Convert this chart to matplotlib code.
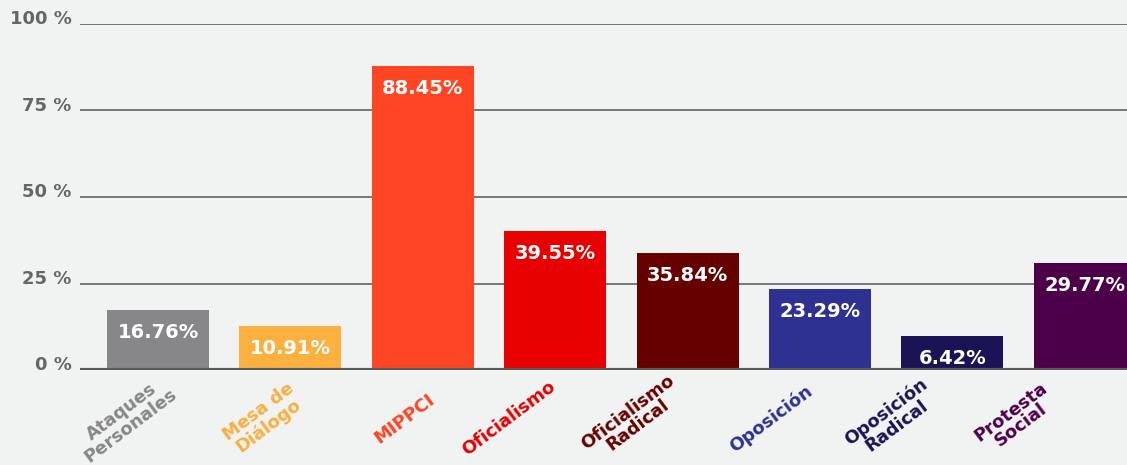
import matplotlib.pyplot as plt
from matplotlib.transforms import blended_transform_factory

plt.rcParams["font.family"] = ["DejaVu Sans"]

categories = ["Ataques\nPersonales", "Mesa de\nDiálogo", "MIPPCI", "Oficialismo",
              "Oficialismo\nRadical", "Oposición", "Oposición\nRadical", "Protesta\nSocial"]
# printed values
values = [16.76, 10.91, 88.45, 39.55, 35.84, 23.29, 6.42, 29.77]
# bar heights as drawn in the original (small bars are padded so the label fits)
bar_heights = [17.2, 12.6, 87.8, 40.1, 33.7, 23.3, 9.7, 30.8]
colors = ["#87878a", "#fbb040", "#ff4524", "#e60000", "#660000", "#2e3192", "#1a1456", "#4d004a"]
yticks = [0, 25, 50, 75, 100]
ytick_labels = ["0 %", "25 %", "50 %", "75 %", "100 %"]

# horizontal shift (px) of each rotated category label relative to its bar centre
label_shift_px = [-32, -27, -18, -46, -55, -49, -61, -69]

BG = "#f1f2f2"
fig = plt.figure(figsize=(11.27, 4.65), dpi=100, facecolor=BG)
ax = fig.add_axes([80 / 1127, 95 / 465, 1 - 80 / 1127, 346 / 465])
ax.set_facecolor(BG)

x = list(range(len(values)))
for yv in yticks[1:]:
    ax.axhline(yv, color="#777777", lw=1.4, zorder=1)

ax.bar(x, bar_heights, width=0.77, color=colors, zorder=2)
ax.axhline(0, color="#5a5a5a", lw=3, zorder=3)

ax.set_xlim(-0.59, 7.32)
ax.set_ylim(0, 100)
for s in ax.spines.values():
    s.set_visible(False)
ax.set_xticks([])
ax.set_yticks([])

trans = blended_transform_factory(ax.transAxes, ax.transData)
for yv, lab in zip(yticks, ytick_labels):
    ax.annotate(lab, xy=(0, yv), xycoords=trans, xytext=(-6, 3.5),
                textcoords="offset points", ha="right", va="center",
                fontsize=13, fontweight="bold", color="#666666",
                annotation_clip=False)

for xi, h, v in zip(x, bar_heights, values):
    ax.annotate(f"{v:.2f}%", xy=(xi, h), xytext=(0, -9), textcoords="offset points",
                ha="center", va="top", fontsize=14, fontweight="bold", color="white",
                zorder=4)

for xi, lab, c, sh in zip(x, categories, colors, label_shift_px):
    ax.annotate(lab, xy=(xi, 0), xytext=(sh * 0.72, -35), textcoords="offset points",
                ha="center", va="center", rotation=37, rotation_mode="anchor",
                multialignment="center", linespacing=0.9,
                fontsize=13, fontweight="bold", color=c, annotation_clip=False)

fig.savefig("out.png", dpi=100, facecolor=BG)
